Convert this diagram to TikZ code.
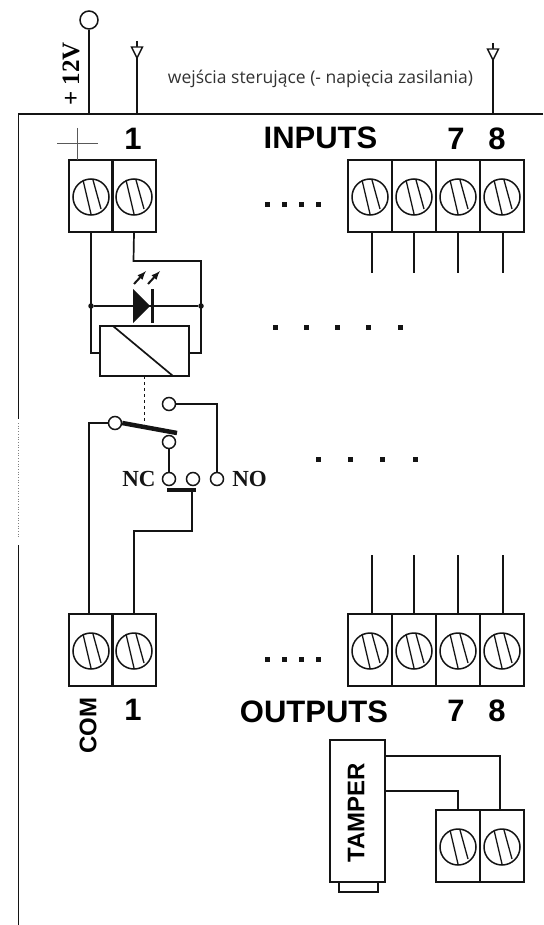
\documentclass[tikz,border=0pt]{standalone}
\usepackage{fontspec}
\setmainfont{Liberation Sans}
\newfontfamily\serifbold{Liberation Serif}[BoldFont=Liberation Serif Bold]
\newfontfamily\thinfont{Open Sans}
\usetikzlibrary{calc}
\definecolor{wirecol}{gray}{0.08}
\tikzset{
  wire/.style={draw=wirecol,line width=1.7pt},
  cellbox/.style={rectangle,draw=wirecol,line width=1.6pt,minimum width=44.5pt,minimum height=72pt,inner sep=0pt},
  screwhead/.style={circle,draw=wirecol,line width=1.5pt,minimum size=36pt,inner sep=0pt},
  contact/.style={circle,draw=wirecol,fill=white,line width=1.5pt,minimum size=13pt,inner sep=0pt},
  joint/.style={circle,fill=wirecol,minimum size=5.5pt,inner sep=0pt},
  bigtext/.style={font=\fontsize{31}{32}\selectfont\bfseries,text=black,inner sep=0pt},
  reltext/.style={font=\fontsize{23}{24}\selectfont\serifbold\bfseries,text=wirecol,inner sep=0pt},
  dotmark/.style={fill=wirecol},
}
% one terminal: box and slotted screw
\newcommand{\termcell}[3]{
\node[cellbox] (#1) at (#2,#3) {};
\node[screwhead] (#1s) at (#2,#3+1) {};
\draw[wire,line width=1.3pt] ($(#1s)+(-8,-17)$) -- ($(#1s)+(0,17)$);
\draw[wire,line width=1.3pt] ($(#1s)+(2,-17)$) -- ($(#1s)+(10,12)$);
}
% one input mark above the frame
\newcommand{\inmark}[3]{
\coordinate (#1) at (#2,#3);
\draw[wire,line width=1.3pt] ($(#1)+(0,-6)$) -- (#1);
\draw[wire,line width=1.4pt,fill=white] ($(#1)+(-5.5,0)$) -- ($(#1)+(5.5,0)$) -- ($(#1)+(0,11)$) -- cycle;
}
\begin{document}
\begin{tikzpicture}[x=1pt,y=-1pt]
\useasboundingbox (0,0) rectangle (543,925);
\fill[white] (0,0) rectangle (543,925);

% frame
\draw[wire] (543,114) -- (18.5,114) -- (18.5,419);
\draw[gray,dotted,line width=0.7pt] (18.5,423) -- (18.5,537);
\draw[wire] (18.5,545) -- (18.5,925);

% supply and control leads
\node[contact,minimum size=18pt] (supply) at (89,20) {};
\coordinate (supplyF) at (89,114);
\draw[wire] (supply) -- (supplyF);
\node[rotate=90,font=\fontsize{25}{26}\selectfont\serifbold\bfseries,inner sep=0pt] (supplyL) at (71,74) {+ 12V};
\inmark{markA}{137}{47}
\coordinate (markAF) at (137,114);
\draw[wire] ($(markA)+(0,11)$) -- (markAF);
\inmark{markB}{493}{49}
\coordinate (markBF) at (493,114);
\draw[wire] ($(markB)+(0,11)$) -- (markBF);
\node[font=\fontsize{17.5}{19}\selectfont\thinfont,text=black!80,inner sep=0pt] (ctrlL) at (320.5,79) {wejścia sterujące (- napięcia zasilania)};

% input terminals
\foreach \n/\x in {A/91,B/134,C/370,D/414,E/458,F/502}{
  \termcell{in\n}{\x}{196}
}
\node[bigtext] (inL) at (320.5,138) {INPUTS};
\node[bigtext] (inOne) at (133,139) {1};
\node[bigtext] (inSeven) at (456,139) {7};
\node[bigtext] (inEight) at (497,139) {8};
\coordinate (plusT) at (77,128);
\coordinate (plusL) at (57,143);
\coordinate (plusR) at (98,143);
\draw[wire,line width=0.8pt,draw=gray!70!black] (plusL) -- (plusR);
\draw[wire,line width=0.8pt,draw=gray!70!black] (plusT) -- (77,160);
\foreach \n/\x in {C/372,D/414,E/458,F/503}{
  \draw[wire] (\x,232) -- (\x,273);
}

% relay with led
\node[rectangle,draw=wirecol,line width=1.6pt,minimum width=89pt,minimum height=50pt,inner sep=0pt] (coil) at (144.5,351) {};
\draw[wire] (113,326) -- (173,376);
\node[joint] (jointL) at (91,306) {};
\node[joint] (jointR) at (201,306) {};
\draw[wire] (jointL) -- (jointR);
\draw[wire] (inA.south) -- (91,353) -- (coil.west |- 0,353);
\draw[wire] (inB.south) -- (133.5,261) -- (201,261) -- (201,353) -- (coil.east |- 0,353);
\fill[wirecol] (133,289) -- (150,306) -- (133,323) -- cycle;
\draw[wirecol,line width=3pt] (152.5,289) -- (152.5,323);
\draw[wire,line width=2pt,-latex] (134,284) -- (146,271);
\draw[wire,line width=2pt,-latex] (148,284) -- (160,271);
\draw[wirecol,line width=1pt,dash pattern=on 3pt off 3pt] (144,376) -- (144,424);

% change-over contact
\node[contact] (ctA) at (169,404) {};
\node[contact] (ctB) at (115,423) {};
\node[contact] (ctC) at (169,442) {};
\node[contact] (ctNC) at (169,479) {};
\node[contact] (ctM) at (193,479) {};
\node[contact] (ctNO) at (217,479) {};
\draw[wirecol,line width=4.5pt] (ctB.east) -- (177,433);
\draw[wire] (ctC) -- (ctNC);
\draw[wire] (ctA) -- (217,404) -- (ctNO);
\draw[wirecol,line width=4.5pt] (167,490) -- (196,490);
\node[reltext] (ncL) at (139,478.5) {NC};
\node[reltext] (noL) at (249.5,478.5) {NO};

% output terminals
\foreach \n/\x in {A/91,B/134,C/370,D/414,E/458,F/502}{
  \termcell{out\n}{\x}{650}
}
\draw[wire] (ctB) -- (89,423) -- (89,614);
\draw[wire] (192,490) -- (192,531) -- (134,531) -- (outB.north);
\foreach \n/\x in {C/372,D/414,E/458,F/503}{
  \draw[wire] (\x,555) -- (\x,614);
}
\node[bigtext] (outL) at (314,712) {OUTPUTS};
\node[bigtext] (outOne) at (133,710) {1};
\node[bigtext] (outSeven) at (456,711) {7};
\node[bigtext] (outEight) at (497,711) {8};
\node[rotate=90,font=\fontsize{24}{25}\selectfont\bfseries,inner sep=0pt] (comL) at (88,725.5) {COM};

% tamper
\node[rectangle,draw=wirecol,line width=1.6pt,minimum width=55pt,minimum height=142pt,inner sep=0pt] (tamper) at (357.5,811) {};
\node[rotate=90,font=\fontsize{24}{25}\selectfont\bfseries,inner sep=0pt] (tamperL) at (356,812.5) {TAMPER};
\draw[wire] (339,882) -- (339,892) -- (378,892) -- (378,882);
\termcell{tmpA}{458}{846}
\termcell{tmpB}{502}{846}
\draw[wire] (385,756) -- (500,756) -- (500,810);
\draw[wire] (385,791) -- (458,791) -- (tmpA.north);

% separators
\foreach \x in {267,284,301,318}{
  \fill[dotmark] (\x-2.5,202.5) rectangle (\x+2.5,207.5);
  \fill[dotmark] (\x-2.5,656.5) rectangle (\x+2.5,661.5);
}
\foreach \x in {275,306,337,368,400}{
  \fill[dotmark] (\x-2.5,324.5) rectangle (\x+2.5,329.5);
}
\foreach \x in {318,350,382,415}{
  \fill[dotmark] (\x-2.5,456.5) rectangle (\x+2.5,461.5);
}

\end{tikzpicture}
\end{document}
